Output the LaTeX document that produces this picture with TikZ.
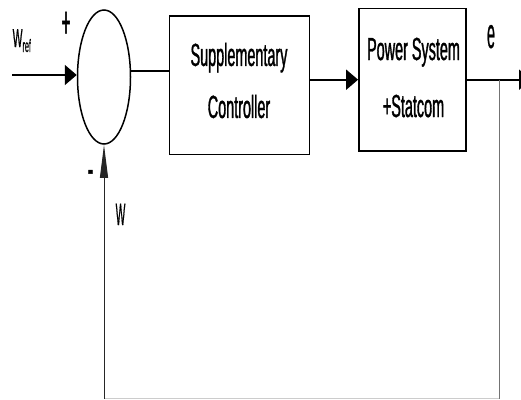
\documentclass[tikz,border=0pt]{standalone}
\usepackage{fontspec}
\setmainfont{Liberation Sans}
\newfontfamily\boxfont[FakeStretch=0.45,FakeBold=1]{Liberation Sans}
\newfontfamily\wfont[FakeStretch=0.4,FakeBold=0.6]{Liberation Sans}
\newfontfamily\slimfont[FakeStretch=0.33,FakeBold=1.2]{Liberation Sans}
\newfontfamily\thinfont[FakeStretch=0.33,FakeBold=0.4]{Liberation Sans}
\usetikzlibrary{arrows.meta,shapes.geometric}
\begin{document}
\begin{tikzpicture}[x=1pt,y=-1pt,
  blk/.style={draw, line width=1.5pt, rectangle, inner sep=0pt},
  sumnode/.style={draw, line width=1.5pt, ellipse, inner sep=0pt, minimum width=53pt, minimum height=134pt},
  blktext/.style={inner sep=0pt, align=center},
  lbl/.style={inner sep=0pt},
  wire/.style={line width=2pt},
  harrow/.style={line width=2pt, -{Triangle[length=12pt,width=20pt]}},
  varrow/.style={line width=1pt, black!85, -{Triangle[length=33pt,width=8pt]}},
]
\useasboundingbox (0,0) rectangle (521,399);
\clip (0,0) rectangle (521,399);

% summing junction and blocks
\node[sumnode] (sum) at (104,77) {};
\node[blk, minimum width=140pt, minimum height=138.5pt] (b1) at (239.3,85) {};
\node[blk, minimum width=107.3pt, minimum height=142.7pt] (b2) at (412.5,79.7) {};

\node[blktext, font=\boxfont\fontsize{32}{52}\selectfont] (b1t) at (239,80.5) {Supplementary\\Controller};
\node[blktext, font=\boxfont\fontsize{32}{57}\selectfont] (b2t) at (413.5,77.5) {Power System\\+Statcom};

% connection points
\coordinate (in) at (12,75);
\coordinate (out) at (531,79.7);
\coordinate (fb1) at (499,79.7);
\coordinate (fb2) at (499,398.5);
\coordinate (fb3) at (104,398.5);

% connectors
\draw[harrow] (in) -- (in -| sum.west);
\draw[wire] ([yshift=6pt]sum.east) -- ([yshift=6pt]sum.east -| b1.west);
\draw[harrow] (b1.east |- b2.west) -- (b2.west);
\draw[harrow] (b2.east) -- (out);
\draw[line width=1pt, black!55] (fb1) -- (fb2);
\draw[line width=1pt, black!20] (fb2) -- (fb3);
\draw[varrow] (fb3) -- (sum.south);

% labels
\node[lbl, anchor=base west, font=\wfont\fontsize{26}{26}\selectfont] (wref) at (12.5,47) {W\raisebox{-5pt}{\fontsize{18}{18}\selectfont ref}};
\node[lbl, font=\slimfont\fontsize{44}{44}\selectfont] (plus) at (66,24.5) {+};
\node[lbl, anchor=base, font=\slimfont\fontsize{44}{44}\selectfont] (minus) at (90.5,183.5) {-};
\node[lbl, anchor=base west, font=\thinfont\fontsize{31}{31}\selectfont] (wlbl) at (115.5,225) {W};
\node[lbl, anchor=base, font=\thinfont\fontsize{43}{43}\selectfont] (elbl) at (491,48) {e};
\end{tikzpicture}
\end{document}
